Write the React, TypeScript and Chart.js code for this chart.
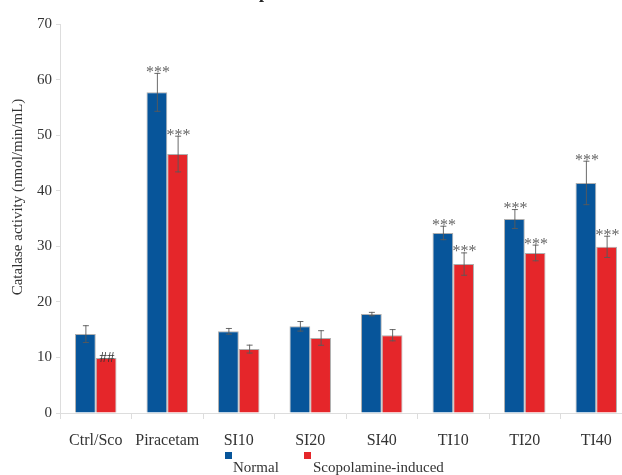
import React, { useEffect, useRef } from "react";
import { Chart, registerables } from "chart.js";

Chart.register(...registerables);

// Treatment groups on the x axis
const groups = ["Ctrl/Sco", "Piracetam", "SI10", "SI20", "SI40", "TI10", "TI20", "TI40"];

// Catalase activity (nmol/min/mL), mean and SEM
const normalMean = [14.2, 57.7, 14.7, 15.6, 17.8, 32.4, 34.9, 41.4];
const normalSem = [1.6, 3.5, 0.6, 0.95, 0.4, 1.3, 1.8, 4.0];
const scoMean = [9.9, 46.6, 11.5, 13.5, 14.0, 26.8, 28.8, 29.9];
const scoSem = [0, 3.3, 0.8, 1.4, 1.1, 2.1, 1.5, 2.0];

// Significance marks above each bar
const normalMarks = ["", "***", "", "", "", "***", "***", "***"];
const scoMarks = ["##", "***", "", "", "", "***", "***", "***"];

const seriesNames = ["Normal", "Scopolamine-induced"];
const yTicks = [0, 10, 20, 30, 40, 50, 60, 70];
const yTitle = "Catalase activity (nmol/min/mL)";

const BLUE = "#07559a";
const RED = "#e5262a";
const SERIF = "'Liberation Serif', 'DejaVu Serif', serif";

const overlayPlugin = {
  id: "overlay",
  afterDatasetsDraw(chart: any) {
    const ctx = chart.ctx;
    const y = chart.scales.y;
    const sems = [normalSem, scoSem];
    const means = [normalMean, scoMean];
    const marks = [normalMarks, scoMarks];
    ctx.save();
    for (let d = 0; d < 2; d++) {
      const meta = chart.getDatasetMeta(d);
      meta.data.forEach((bar: any, i: number) => {
        const m = means[d][i];
        const s = sems[d][i];
        const x = bar.x;
        const top = y.getPixelForValue(m + s);
        const bot = y.getPixelForValue(m - s);
        if (s > 0) {
          ctx.strokeStyle = "rgba(90,90,90,0.9)";
          ctx.lineWidth = 1;
          ctx.beginPath();
          ctx.moveTo(x + 0.5, top);
          ctx.lineTo(x + 0.5, bot);
          ctx.moveTo(x - 2.5, top + 0.5);
          ctx.lineTo(x + 3.5, top + 0.5);
          ctx.moveTo(x - 2.5, bot - 0.5);
          ctx.lineTo(x + 3.5, bot - 0.5);
          ctx.stroke();
        }
        const mark = marks[d][i];
        if (mark) {
          ctx.textAlign = "center";
          ctx.textBaseline = "alphabetic";
          if (mark === "***") {
            ctx.font = `16px ${SERIF}`;
            ctx.fillStyle = "#666";
            ctx.fillText(mark, x + 1, top + 4);
          } else {
            ctx.font = `15px ${SERIF}`;
            ctx.fillStyle = "#333";
            ctx.fillText(mark, x + 1, y.getPixelForValue(m) + 4);
          }
        }
      });
    }
    ctx.restore();
  },
  afterDraw(chart: any) {
    const ctx = chart.ctx;
    ctx.save();
    // rotated y-axis title
    ctx.font = `15px ${SERIF}`;
    ctx.fillStyle = "#333";
    ctx.textAlign = "center";
    ctx.textBaseline = "middle";
    ctx.translate(18, 197);
    ctx.rotate(-Math.PI / 2);
    ctx.fillText(yTitle, 0, 0);
    ctx.restore();

    // legend: swatches with names set below them
    ctx.save();
    ctx.font = `15px ${SERIF}`;
    ctx.textBaseline = "middle";
    ctx.textAlign = "left";
    const swX = [225, 304];
    const txtX = [233, 313];
    const colors = [BLUE, RED];
    for (let k = 0; k < 2; k++) {
      ctx.fillStyle = colors[k];
      ctx.fillRect(swX[k], 452, 7, 7);
      ctx.fillStyle = "#333";
      ctx.fillText(seriesNames[k], txtX[k], 468);
    }
    // tail of the heading above the plot
    ctx.font = `bold 18px ${SERIF}`;
    ctx.fillStyle = "#222";
    ctx.textAlign = "center";
    ctx.textBaseline = "alphabetic";
    ctx.fillText("p", 264, -2);
    ctx.restore();
  },
};

export default function App() {
  const ref = useRef<HTMLCanvasElement | null>(null);
  useEffect(() => {
    if (!ref.current) return;
    const chart = new Chart(ref.current, {
      type: "bar",
      data: {
        labels: groups,
        datasets: [
          {
            label: seriesNames[0],
            data: normalMean,
            backgroundColor: BLUE,
            borderColor: "rgba(110,110,110,0.55)",
            borderWidth: 1,
          },
          {
            label: seriesNames[1],
            data: scoMean,
            backgroundColor: RED,
            borderColor: "rgba(110,110,110,0.55)",
            borderWidth: 1,
          },
        ],
      },
      options: {
        responsive: false,
        animation: false,
        devicePixelRatio: 1,
        layout: { padding: { top: 24, right: 8, left: 0, bottom: 0 } },
        plugins: {
          legend: { display: false },
          tooltip: { enabled: false },
          title: { display: false },
        },
        datasets: {
          bar: { categoryPercentage: 0.58, barPercentage: 1 },
        },
        scales: {
          x: {
            grid: {
              offset: true,
              drawOnChartArea: false,
              drawTicks: true,
              tickLength: 6,
              color: "#ddd",
            },
            border: { display: true, color: "#ddd" },
            ticks: {
              font: { family: SERIF, size: 16 },
              color: "#333",
              padding: 12,
              maxRotation: 0,
              autoSkip: false,
            },
            afterFit: (s: any) => {
              s.height = 62;
            },
          },
          y: {
            min: 0,
            max: 70,
            afterBuildTicks: (s: any) => {
              s.ticks = yTicks.map((v) => ({ value: v }));
            },
            grid: {
              drawOnChartArea: false,
              drawTicks: true,
              tickLength: 4,
              color: "#ddd",
            },
            border: { display: true, color: "#ddd" },
            ticks: {
              font: { family: SERIF, size: 15 },
              color: "#333",
              padding: 4,
            },
            afterFit: (s: any) => {
              s.width = 60;
            },
          },
        },
      },
      plugins: [overlayPlugin],
    });
    return () => chart.destroy();
  }, []);
  return (
    <div
      style={{
        position: "fixed",
        left: 0,
        top: 0,
        width: 622,
        height: 475,
        overflow: "hidden",
        background: "#fff",
      }}
    >
      <canvas ref={ref} width={640} height={475} style={{ display: "block" }} />
    </div>
  );
}
